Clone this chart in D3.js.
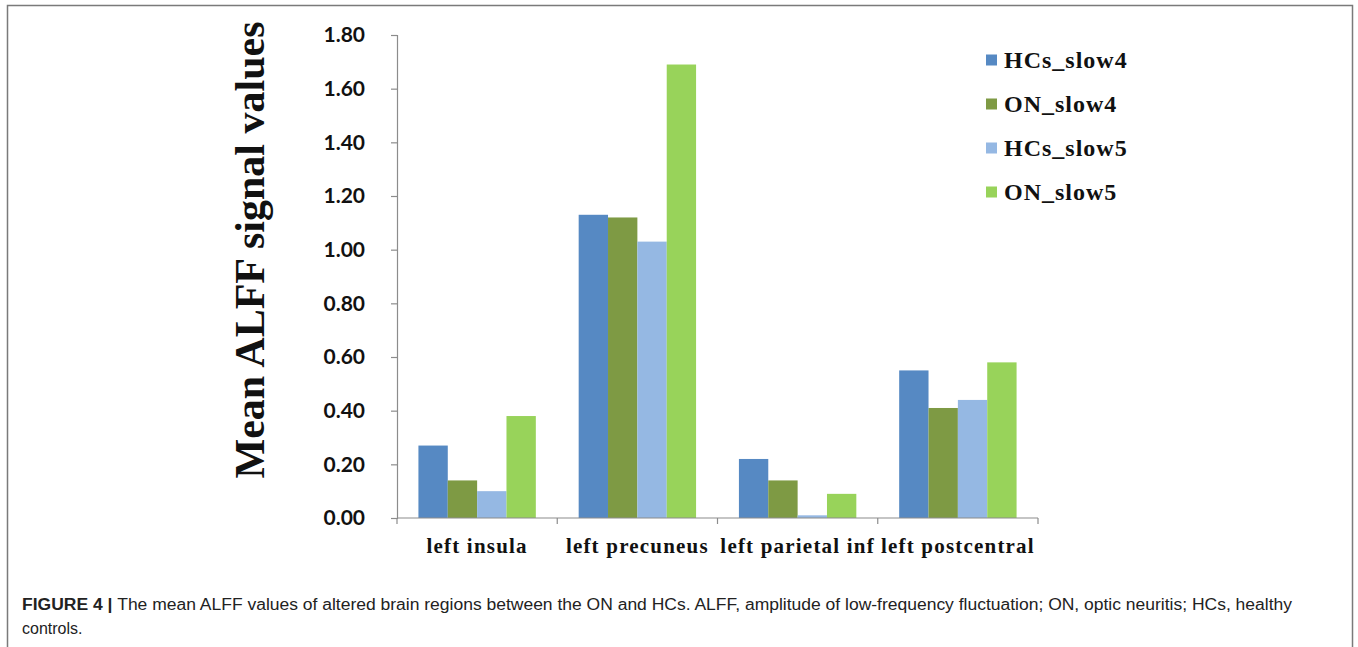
<!DOCTYPE html>
<html>
<head>
<meta charset="utf-8">
<script src="https://cdn.jsdelivr.net/npm/d3@7"></script>
<style>
  html, body { margin: 0; padding: 0; background: #fff; }
  svg { display: block; }
</style>
</head>
<body>
<svg id="chart" width="1358" height="647"></svg>
<script>
const categories = ["left insula", "left precuneus", "left parietal inf", "left postcentral"];
const seriesNames = ["HCs_slow4", "ON_slow4", "HCs_slow5", "ON_slow5"];
const HCs_slow4 = [0.27, 1.13, 0.22, 0.55];
const ON_slow4  = [0.14, 1.12, 0.14, 0.41];
const HCs_slow5 = [0.10, 1.03, 0.01, 0.44];
const ON_slow5  = [0.38, 1.69, 0.09, 0.58];
const yTicks = [0, 0.2, 0.4, 0.6, 0.8, 1.0, 1.2, 1.4, 1.6, 1.8];
const colors = ["#5689C3", "#7E9A44", "#95B8E3", "#98D35A"];
const seriesValues = [HCs_slow4, ON_slow4, HCs_slow5, ON_slow5];

const svg = d3.select("#chart");

// frame
svg.append("rect")
  .attr("x", 7.5).attr("y", 5.5).attr("width", 1345).attr("height", 660)
  .attr("fill", "none").attr("stroke", "#7a7a7a").attr("stroke-width", 1.5);

const x0 = d3.scaleBand().domain(categories).range([397, 1038]).paddingInner(0).paddingOuter(0);
const x1 = d3.scaleBand().domain(seriesNames).range([0, x0.bandwidth()]).paddingInner(0).paddingOuter(0.73);
const y = d3.scaleLinear().domain([0, 1.8]).range([518, 35]);

// bars
const data = [];
categories.forEach((c, i) => {
  seriesNames.forEach((s, j) => data.push({ c, s, v: seriesValues[j][i], color: colors[j] }));
});
svg.append("g").selectAll("rect").data(data).join("rect")
  .attr("x", d => x0(d.c) + x1(d.s))
  .attr("y", d => y(d.v))
  .attr("width", x1.bandwidth())
  .attr("height", d => y(0) - y(d.v))
  .attr("fill", d => d.color);

// y axis
const yAxis = d3.axisLeft(y).tickValues(yTicks).tickFormat(d3.format(".2f")).tickSize(6).tickPadding(26);
const gy = svg.append("g").attr("transform", "translate(397,0)").call(yAxis);
gy.select(".domain").attr("stroke", "#8c8c8c").attr("stroke-width", 1.2);
gy.selectAll(".tick line").attr("stroke", "#8c8c8c").attr("stroke-width", 1.2);
gy.selectAll(".tick text")
  .attr("font-family", "Lato, 'Open Sans', sans-serif")
  .attr("font-weight", "bold")
  .attr("font-size", 21)
  .attr("fill", "#111");

// x axis baseline
svg.append("line")
  .attr("x1", x0.range()[0]).attr("x2", x0.range()[1])
  .attr("y1", y(0)).attr("y2", y(0))
  .attr("stroke", "#8c8c8c").attr("stroke-width", 1.2);
// category boundary ticks
const bounds = categories.map(c => x0(c)).concat([x0.range()[1]]);
svg.append("g").selectAll("line").data(bounds).join("line")
  .attr("x1", d => d).attr("x2", d => d)
  .attr("y1", y(0)).attr("y2", y(0) + 6)
  .attr("stroke", "#8c8c8c").attr("stroke-width", 1.2);
// category labels
svg.append("g").selectAll("text").data(categories).join("text")
  .attr("x", d => x0(d) + x0.bandwidth() / 2)
  .attr("y", 553)
  .attr("text-anchor", "middle")
  .attr("font-family", "'Liberation Serif', 'Times New Roman', serif")
  .attr("font-weight", "bold")
  .attr("font-size", 21)
  .attr("letter-spacing", 1.2)
  .attr("fill", "#111")
  .text(d => d);

// y axis title
svg.append("text")
  .attr("transform", "translate(264,250) rotate(-90)")
  .attr("text-anchor", "middle")
  .attr("font-family", "'Liberation Serif', 'Times New Roman', serif")
  .attr("font-weight", "bold")
  .attr("font-size", 42)
  .attr("fill", "#111")
  .text("Mean ALFF signal values");

// legend
const legend = svg.append("g");
const legY = d3.scalePoint().domain(seriesNames).range([60, 192]);
legend.selectAll("rect").data(seriesNames).join("rect")
  .attr("x", 986).attr("y", d => legY(d) - 5.5)
  .attr("width", 11).attr("height", 11)
  .attr("fill", (d, i) => colors[i]);
legend.selectAll("text").data(seriesNames).join("text")
  .attr("x", 1004).attr("y", d => legY(d) + 8)
  .attr("font-family", "'Liberation Serif', 'Times New Roman', serif")
  .attr("font-weight", "bold")
  .attr("font-size", 24)
  .attr("letter-spacing", 1)
  .attr("fill", "#111")
  .text(d => d);

// caption
const cap = svg.append("text")
  .attr("x", 22).attr("y", 610)
  .attr("font-family", "'Liberation Sans', Arial, sans-serif")
  .attr("font-size", 16)
  .attr("fill", "#222")
  .attr("textLength", 1270)
  .attr("lengthAdjust", "spacingAndGlyphs");
cap.append("tspan").attr("font-weight", "bold").text("FIGURE 4 | ");
cap.append("tspan").text("The mean ALFF values of altered brain regions between the ON and HCs. ALFF, amplitude of low-frequency fluctuation; ON, optic neuritis; HCs, healthy");
svg.append("text")
  .attr("x", 22).attr("y", 634)
  .attr("font-family", "'Liberation Sans', Arial, sans-serif")
  .attr("font-size", 16)
  .attr("fill", "#222")
  .text("controls.");
</script>
</body>
</html>
